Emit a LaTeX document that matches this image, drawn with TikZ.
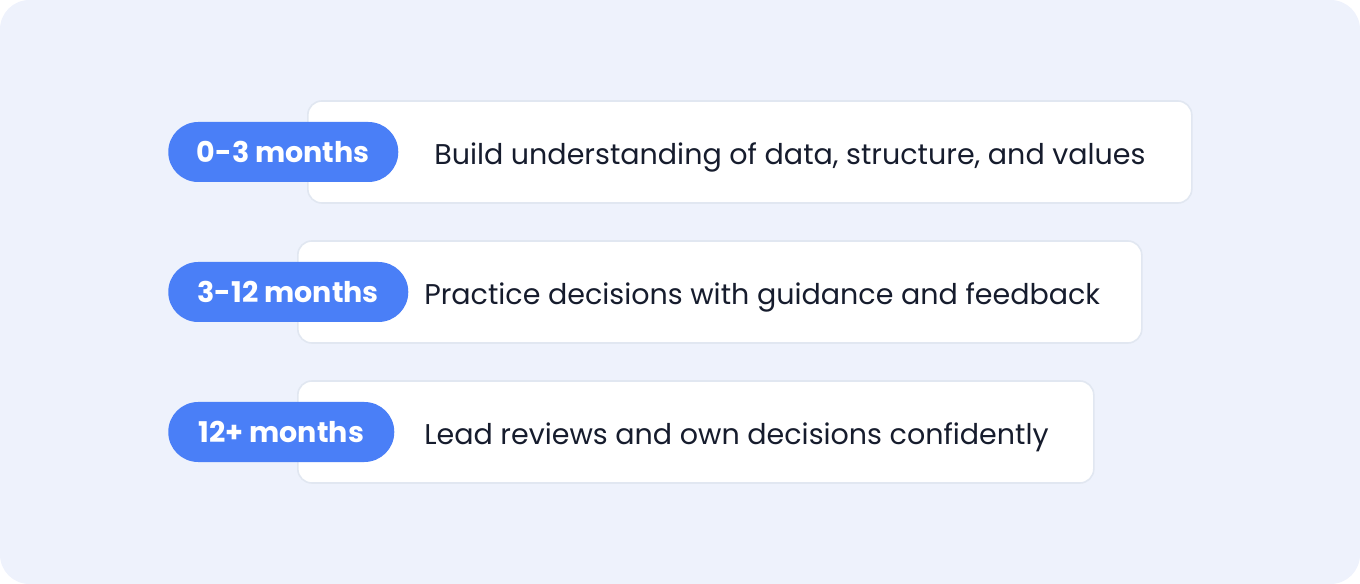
\documentclass[tikz,border=0pt]{standalone}
\usepackage{fontspec}
\setmainfont{Poppins}
\definecolor{bgc}{HTML}{EEF2FC}
\definecolor{pillc}{HTML}{4A7FF7}
\definecolor{cardline}{HTML}{E1E7F1}
\definecolor{txtc}{HTML}{161C2D}
\begin{document}
\begin{tikzpicture}[x=0.75pt,y=-0.75pt,
  card/.style={draw=cardline,line width=1.2pt,fill=white,rounded corners=10.5pt,minimum height=76.5pt,inner sep=0pt,anchor=west},
  pill/.style={fill=pillc,rounded corners=22.4pt,minimum height=45pt,inner sep=0pt,anchor=west,text=white,font=\fontsize{21.4}{25}\selectfont\bfseries},
  lbl/.style={anchor=base west,inner sep=0pt,text=txtc,font=\fontsize{21.4}{25}\selectfont}]
\useasboundingbox (0,0) rectangle (1360,584);
\fill[bgc,rounded corners=22pt] (0,0) rectangle (1360,584);
% row 1
\node[card,minimum width=663pt] (card1) at (307,152) {};
\node[pill,minimum width=172.5pt] (pill1) at (168,152) {0-3 months};
\node[lbl] (txt1) at (434,165) {Build understanding of data, structure, and values};
% row 2
\node[card,minimum width=633pt] (card2) at (297,292) {};
\node[pill,minimum width=180pt] (pill2) at (168,292) {3-12 months};
\node[lbl] (txt2) at (424,305) {Practice decisions with guidance and feedback};
% row 3
\node[card,minimum width=597pt] (card3) at (297,432) {};
\node[pill,minimum width=169.5pt] (pill3) at (168,432) {12+ months};
\node[lbl] (txt3) at (424,445) {Lead reviews and own decisions confidently};
\end{tikzpicture}
\end{document}
